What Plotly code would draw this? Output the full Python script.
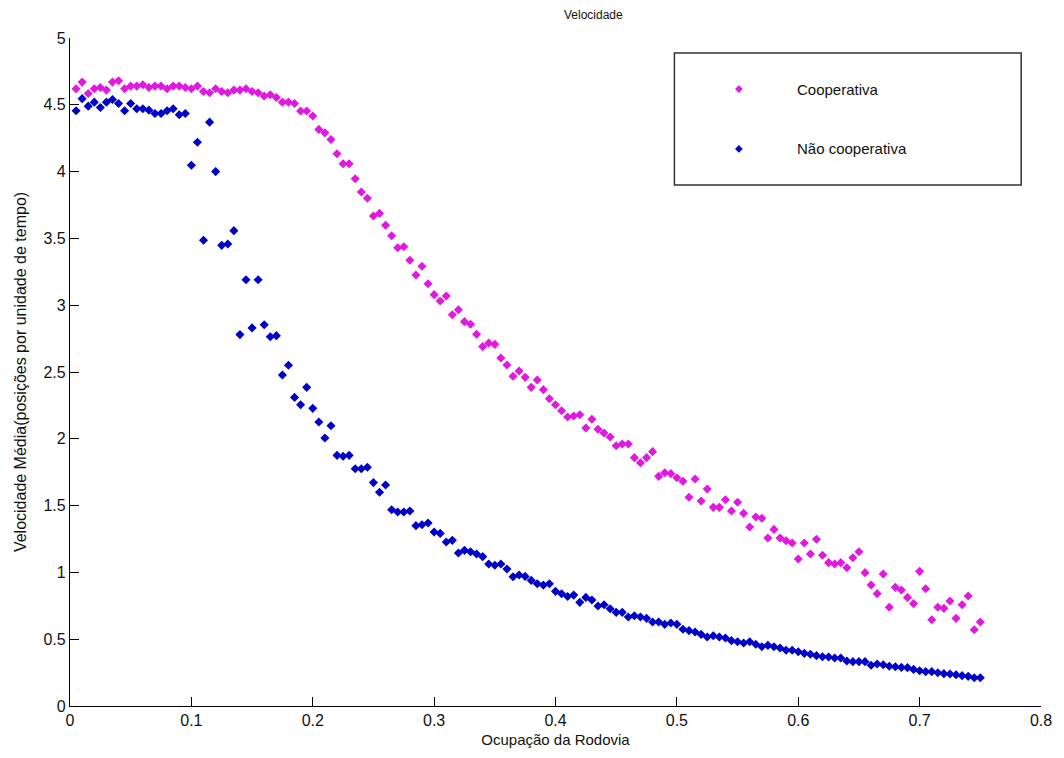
import plotly.graph_objects as go

# Ocupação (x) – common grid for both series
ocupacao = [0.005, 0.01, 0.015, 0.02, 0.025, 0.03, 0.035, 0.04, 0.045, 0.05,
            0.055, 0.06, 0.065, 0.07, 0.075, 0.08, 0.085, 0.09, 0.095, 0.1,
            0.105, 0.11, 0.115, 0.12, 0.125, 0.13, 0.135, 0.14, 0.145, 0.15,
            0.155, 0.16, 0.165, 0.17, 0.175, 0.18, 0.185, 0.19, 0.195, 0.2,
            0.205, 0.21, 0.215, 0.22, 0.225, 0.23, 0.235, 0.24, 0.245, 0.25,
            0.255, 0.26, 0.265, 0.27, 0.275, 0.28, 0.285, 0.29, 0.295, 0.3,
            0.305, 0.31, 0.315, 0.32, 0.325, 0.33, 0.335, 0.34, 0.345, 0.35,
            0.355, 0.36, 0.365, 0.37, 0.375, 0.38, 0.385, 0.39, 0.395, 0.4,
            0.405, 0.41, 0.415, 0.42, 0.425, 0.43, 0.435, 0.44, 0.445, 0.45,
            0.455, 0.46, 0.465, 0.47, 0.475, 0.48, 0.485, 0.49, 0.495, 0.5,
            0.505, 0.51, 0.515, 0.52, 0.525, 0.53, 0.535, 0.54, 0.545, 0.55,
            0.555, 0.56, 0.565, 0.57, 0.575, 0.58, 0.585, 0.59, 0.595, 0.6,
            0.605, 0.61, 0.615, 0.62, 0.625, 0.63, 0.635, 0.64, 0.645, 0.65,
            0.655, 0.66, 0.665, 0.67, 0.675, 0.68, 0.685, 0.69, 0.695, 0.7,
            0.705, 0.71, 0.715, 0.72, 0.725, 0.73, 0.735, 0.74, 0.745, 0.75]

cooperativa = [4.62, 4.67, 4.585, 4.62, 4.63, 4.61, 4.67, 4.68, 4.62, 4.64,
               4.64, 4.65, 4.63, 4.64, 4.64, 4.62, 4.64, 4.64, 4.63, 4.62,
               4.64, 4.60, 4.59, 4.62, 4.60, 4.59, 4.61, 4.61, 4.62, 4.60,
               4.59, 4.566, 4.575, 4.555, 4.52, 4.52, 4.51, 4.454, 4.454, 4.416,
               4.316, 4.29, 4.24, 4.134, 4.059, 4.059, 3.947, 3.847, 3.80, 3.668,
               3.687, 3.598, 3.52, 3.43, 3.438, 3.336, 3.226, 3.291, 3.161, 3.079,
               3.031, 3.069, 2.929, 2.966, 2.877, 2.857, 2.782, 2.69, 2.717, 2.707,
               2.605, 2.552, 2.468, 2.507, 2.46, 2.385, 2.44, 2.368, 2.30, 2.255,
               2.21, 2.163, 2.171, 2.18, 2.081, 2.146, 2.071, 2.043, 2.013, 1.948,
               1.961, 1.961, 1.859, 1.821, 1.859, 1.904, 1.719, 1.746, 1.739, 1.709,
               1.682, 1.562, 1.699, 1.534, 1.624, 1.487, 1.487, 1.544, 1.46, 1.525,
               1.442, 1.34, 1.415, 1.405, 1.257, 1.322, 1.257, 1.237, 1.22, 1.10,
               1.22, 1.138, 1.248, 1.128, 1.073, 1.063, 1.073, 1.035, 1.11, 1.155,
               0.998, 0.906, 0.841, 0.988, 0.739, 0.888, 0.868, 0.813, 0.766, 1.008,
               0.878, 0.646, 0.739, 0.731, 0.786, 0.656, 0.758, 0.823, 0.571, 0.629]

nao_cooperativa = [4.456, 4.546, 4.49, 4.52, 4.48, 4.52, 4.54, 4.51, 4.456, 4.51,
                   4.47, 4.47, 4.46, 4.435, 4.435, 4.456, 4.47, 4.426, 4.435, 4.047,
                   4.22, 3.486, 4.37, 4.00, 3.448, 3.458, 3.558, 2.78, 3.19, 2.83,
                   3.19, 2.854, 2.764, 2.772, 2.478, 2.55, 2.31, 2.255, 2.385, 2.228,
                   2.126, 2.006, 2.098, 1.876, 1.869, 1.876, 1.776, 1.776, 1.787, 1.672,
                   1.60, 1.654, 1.469, 1.452, 1.452, 1.46, 1.35, 1.357, 1.37, 1.302,
                   1.292, 1.228, 1.24, 1.145, 1.165, 1.155, 1.138, 1.118, 1.063, 1.053,
                   1.063, 1.025, 0.968, 0.98, 0.97, 0.94, 0.915, 0.905, 0.915, 0.858,
                   0.84, 0.82, 0.83, 0.776, 0.813, 0.793, 0.748, 0.758, 0.728, 0.701,
                   0.701, 0.666, 0.676, 0.666, 0.656, 0.629, 0.629, 0.611, 0.621, 0.611,
                   0.574, 0.564, 0.554, 0.536, 0.516, 0.526, 0.516, 0.509, 0.489, 0.481,
                   0.472, 0.481, 0.462, 0.444, 0.454, 0.444, 0.434, 0.417, 0.417, 0.406,
                   0.394, 0.387, 0.377, 0.369, 0.367, 0.359, 0.359, 0.337, 0.332, 0.332,
                   0.332, 0.305, 0.314, 0.309, 0.297, 0.294, 0.289, 0.287, 0.274, 0.264,
                   0.257, 0.257, 0.249, 0.242, 0.239, 0.234, 0.227, 0.222, 0.212, 0.212]

series_names = ["Cooperativa", "Não cooperativa"]
series_colors = ["#e018e0", "#0000c8"]

x_ticks = [0, 0.1, 0.2, 0.3, 0.4, 0.5, 0.6, 0.7, 0.8]
x_tick_labels = ["0", "0.1", "0.2", "0.3", "0.4", "0.5", "0.6", "0.7", "0.8"]
y_ticks = [0, 0.5, 1, 1.5, 2, 2.5, 3, 3.5, 4, 4.5, 5]
y_tick_labels = ["0", "0.5", "1", "1.5", "2", "2.5", "3", "3.5", "4", "4.5", "5"]

FONT = "Liberation Sans, Arial, sans-serif"

# page has an 8px body margin; the figure is sized/margined to compensate
W, H = 1056, 750
L, R, T, B = 57, 19, 30, 52
PW, PH = W - L - R, H - T - B


def px_x(px):  # page pixel -> paper fraction
    return (px - 8 - L) / PW


def px_y(py):
    return (H - B - (py - 8)) / PH


fig = go.Figure()
for name, ys, col in zip(series_names, [cooperativa, nao_cooperativa], series_colors):
    fig.add_trace(go.Scatter(x=ocupacao, y=ys, mode="markers", name=name,
                             marker=dict(symbol="diamond", size=7, color=col,
                                         line=dict(width=0)),
                             showlegend=False))

# manual legend (box, markers on an overlay axis, labels)
leg_y = [0.84, 0.16]
for name, col, ly in zip(series_names, series_colors, leg_y):
    fig.add_trace(go.Scatter(x=[0.186], y=[ly], mode="markers", xaxis="x2", yaxis="y2",
                             marker=dict(symbol="diamond", size=6, color=col),
                             showlegend=False, hoverinfo="skip"))
    fig.add_annotation(xref="x2", yref="y2", x=0.348, y=ly, text=name, showarrow=False,
                       xanchor="left", yanchor="middle",
                       font=dict(family=FONT, size=15, color="#111"))

box_x0, box_x1 = px_x(675), px_x(1025)
box_y0, box_y1 = px_y(185), px_y(53)

fig.update_layout(
    width=W, height=H,
    margin=dict(l=L, r=R, t=T, b=B),
    paper_bgcolor="white", plot_bgcolor="white",
    font=dict(family=FONT, size=15, color="#111"),
    xaxis=dict(range=[0, 0.8], tickvals=x_ticks, ticktext=x_tick_labels,
               ticks="inside", ticklen=9, tickcolor="black", tickwidth=1,
               showline=True, linecolor="black", linewidth=1.2,
               showgrid=False, zeroline=False, mirror=False,
               tickfont=dict(size=16),
               title=dict(text="Ocupação da Rodovia", font=dict(size=15), standoff=6)),
    yaxis=dict(range=[0, 5], tickvals=y_ticks, ticktext=y_tick_labels,
               ticks="inside", ticklen=9, tickcolor="black", tickwidth=1,
               showline=True, linecolor="black", linewidth=1.2,
               showgrid=False, zeroline=False, mirror=False,
               tickfont=dict(size=16),
               title=dict(text="Velocidade Média(posições por unidade de tempo)",
                          font=dict(size=16), standoff=12)),
    xaxis2=dict(domain=[box_x0, box_x1], range=[0, 1],
                anchor="y2", visible=False, fixedrange=True),
    yaxis2=dict(domain=[box_y0, box_y1], range=[-0.25, 1.25],
                anchor="x2", visible=False, fixedrange=True),
    shapes=[dict(type="rect", xref="paper", yref="paper",
                 x0=box_x0, x1=box_x1, y0=box_y0, y1=box_y1,
                 line=dict(color="#333", width=1.5), fillcolor="rgba(0,0,0,0)")],
    annotations=list(fig.layout.annotations) + [
        dict(text="Velocidade", xref="paper", yref="paper",
             x=px_x(593), y=px_y(15), showarrow=False,
             xanchor="center", yanchor="middle",
             font=dict(family=FONT, size=12, color="#111"))],
)

fig.write_html("out.html")
